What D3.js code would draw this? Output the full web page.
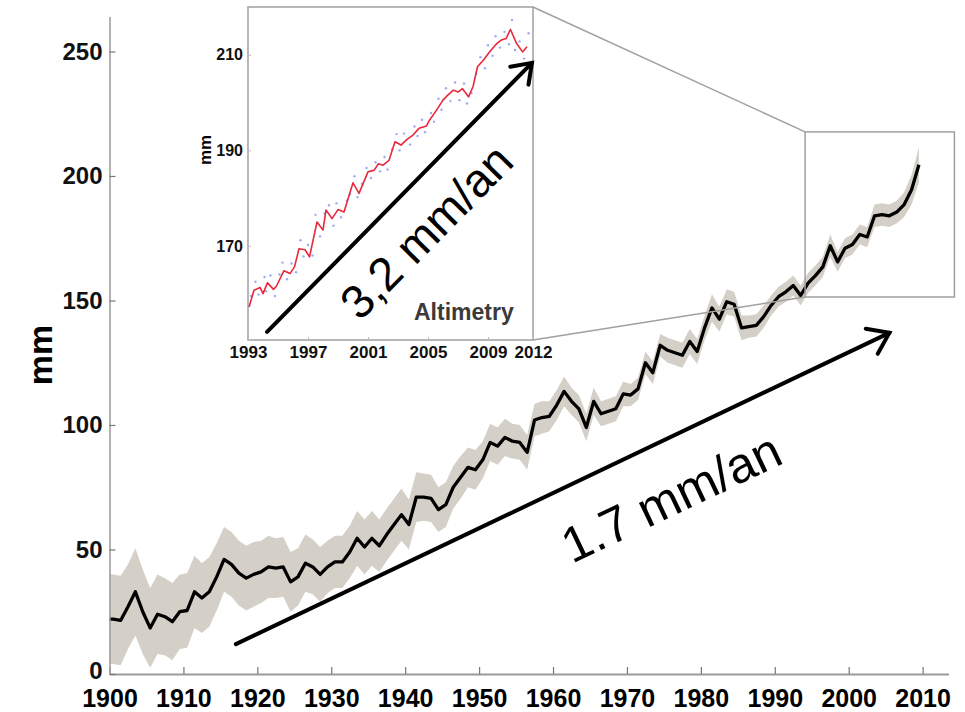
<!DOCTYPE html>
<html>
<head>
<meta charset="utf-8">
<script src="https://cdn.jsdelivr.net/npm/d3@7"></script>
<style>
  body { margin: 0; background: #fff; }
  svg { display: block; font-family: "Liberation Sans", Arial, Helvetica, sans-serif; }
</style>
</head>
<body>
<svg id="chart" width="965" height="712"></svg>
<script>
// ---------- DATA ----------
const firstYear = 1900;
const seaLevel = [
  22, 21.5, 27, 33, 25, 18.5, 24, 23, 21, 25,
  25.5, 33, 30.5, 33, 39, 46, 44, 40.5, 38.5, 40,
  41, 43, 42.5, 43, 37, 39, 44.5, 43, 40, 43,
  45, 45, 49, 54.5, 51, 54.5, 51.5, 56, 60, 64,
  60, 71, 71, 70.5, 66, 68, 75, 79, 83, 82,
  86, 93, 91.5, 95, 93.5, 93, 89, 102, 103, 103.5,
  108, 113.5, 109.5, 106.5, 99, 109.5, 104.5, 105.5, 106.5, 112.5,
  112, 114.5, 125, 121, 132, 130, 129, 128, 133.5, 129.5,
  139, 147, 142.5, 149.5, 148.5, 139, 139.5, 140, 143.5, 148,
  151.5, 153.5, 156, 152, 157, 160, 163.5, 172, 165.5, 171,
  172.5, 176.5, 175.5, 184, 184.5, 184, 185.5, 188.5, 194.5, 204.5
];
const uncertainty = [
  18, 18, 17, 17.5, 17, 16, 16, 15.5, 15.5, 15,
  15, 14.5, 14, 14, 13.5, 13, 13, 13, 13, 13,
  12.5, 12.5, 12, 12, 12, 11.5, 11.5, 11, 11, 10.5,
  10.5, 10.5, 10.5, 11, 11, 11, 10.5, 10.5, 10.5, 10.5,
  10, 10, 9.5, 9.5, 9, 9, 8.5, 8.5, 8, 8,
  7.5, 7.5, 7.5, 7.5, 7, 7, 7, 6.5, 6.5, 6,
  6, 6, 5.5, 5.5, 5.5, 5.5, 5, 5, 5, 5,
  4.5, 4.5, 4.5, 4.5, 4.5, 5, 5, 5, 5, 5,
  5, 5.5, 5, 5, 5, 5, 4.5, 4.5, 4.5, 4,
  4, 4, 4, 4, 4, 4, 4, 4.5, 4, 4,
  4, 4, 4, 4.5, 4.5, 4.5, 4.5, 5, 6, 7
];
const xTicks = [1900, 1910, 1920, 1930, 1940, 1950, 1960, 1970, 1980, 1990, 2000, 2010];
const yTicks = [0, 50, 100, 150, 200, 250];

// Inset (altimetry)
const insetRedT = [1993.07,1993.4,1993.8,1994.0,1994.3,1994.7,1994.9,1995.4,1995.8,1996.1,1996.4,1996.8,1997.1,1997.6,1998.0,1998.2,1998.6,1999.0,1999.4,2000.0,2000.4,2001.0,2001.4,2001.7,2002.0,2002.4,2002.8,2003.2,2003.6,2004.0,2004.4,2004.9,2005.1,2005.5,2006.0,2006.3,2006.7,2007.0,2007.3,2007.7,2008.0,2008.3,2008.7,2009.1,2009.6,2009.9,2010.2,2010.5,2010.9,2011.3,2011.6];
const insetRedV = [157.2,160.7,161.3,160.0,162.3,160.9,161.6,164.8,164.2,165.6,169.4,169.2,167.7,175.0,173.3,177.5,175.7,177.6,177.1,183.2,181.0,185.5,185.8,187.2,186.9,187.9,191.8,191.1,192.3,193.2,194.6,195.1,196.3,198.1,200.5,201.5,202.6,202.2,202.9,201.2,203.3,207.5,208.9,210.6,212.4,213.1,213.4,215.3,212.4,210.6,211.7];
const insetBlueT = [1993.2,1993.5,1993.7,1994.1,1994.2,1994.5,1994.8,1995.1,1995.3,1995.6,1995.9,1996.2,1996.5,1996.7,1997.0,1997.3,1997.5,1997.8,1998.1,1998.4,1998.7,1998.9,1999.2,1999.6,1999.8,2000.1,2000.3,2000.6,2000.9,2001.2,2001.5,2001.8,2002.1,2002.3,2002.6,2002.9,2003.1,2003.4,2003.8,2004.1,2004.3,2004.6,2004.8,2005.2,2005.4,2005.7,2005.9,2006.2,2006.5,2006.8,2007.1,2007.4,2007.6,2007.9,2008.2,2008.5,2008.8,2009.0,2009.3,2009.5,2009.8,2010.1,2010.4,2010.6,2010.8,2011.1,2011.4,2011.7];
const insetBlueV = [159.5,162.5,159.8,163.5,160.5,163.8,159.5,164.0,166.5,163.0,166.3,164.5,171.2,167.8,170.2,168.0,176.5,172.0,176.8,178.5,174.2,178.9,176.0,179.5,180.8,184.6,180.2,183.0,186.3,184.2,187.5,185.6,188.6,186.0,190.2,193.4,190.0,193.5,191.2,195.0,193.0,196.4,193.8,197.8,196.0,200.8,198.5,203.0,200.3,204.2,200.5,204.0,199.8,202.0,206.0,209.5,207.2,212.0,209.8,213.9,211.5,214.8,212.2,217.3,211.0,212.8,209.2,214.5];
const insetXTicks = [1993, 1997, 2001, 2005, 2009, 2012];
const insetYTicks = [170, 190, 210];

// Annotations (in data units)
const mainArrow = { from: [1917.1, 12.0], to: [2005.5, 137.0], label: "1.7 mm/an" };
const insetArrow = { from: [1994.27, 152.0], to: [2011.93, 208.3], label: "3,2 mm/an" };
const zoomBox = { years: [1994.1, 2014.3], values: [151.4, 217.7] };

// ---------- SCALES ----------
const svg = d3.select("#chart");
const x = d3.scaleLinear().domain([1900, 2013.5]).range([109.5, 948.5]);
const y = d3.scaleLinear().domain([0, 264]).range([674, 16.6]);

const xi = d3.scaleLinear().domain([1993, 2012]).range([248, 533]);
const yi = d3.scaleLinear().domain([150.3, 220]).range([340, 7]);

const axisGray = "#9a9a9a";

// ---------- MAIN SERIES ----------
const pts = seaLevel.map((v, i) => ({ t: firstYear + i + 0.5, v, e: uncertainty[i] }));
const ptsFull = [{ t: firstYear, v: pts[0].v, e: pts[0].e }].concat(pts);

svg.append("path")
  .datum(ptsFull)
  .attr("fill", "#d4d0c8")
  .attr("d", d3.area().x(d => x(d.t)).y0(d => y(d.v - d.e)).y1(d => y(d.v + d.e)));

svg.append("path")
  .datum(ptsFull)
  .attr("fill", "none")
  .attr("stroke", "#000")
  .attr("stroke-width", 3.3)
  .attr("stroke-linejoin", "round")
  .attr("d", d3.line().x(d => x(d.t)).y(d => y(d.v)));

// ---------- MAIN AXES ----------
const gx = svg.append("g").attr("transform", `translate(0,${y(0)})`)
  .call(d3.axisBottom(x).tickValues(xTicks).tickFormat(d3.format("d")).tickSize(-7).tickSizeOuter(0).tickPadding(15));
gx.select(".domain").attr("stroke", axisGray).attr("stroke-width", 2);
gx.selectAll(".tick line").attr("stroke", "#777").attr("stroke-width", 1.2);
gx.selectAll(".tick text").attr("font-size", 25).attr("font-weight", "bold").attr("fill", "#000")
  .attr("font-family", "'Liberation Sans', Arial, sans-serif");

const gy = svg.append("g").attr("transform", `translate(${x(1900)},0)`)
  .call(d3.axisLeft(y).tickValues(yTicks).tickSize(-6).tickSizeOuter(0).tickPadding(7));
gy.select(".domain").attr("stroke", axisGray).attr("stroke-width", 1.5);
gy.selectAll(".tick line").attr("stroke", "#777").attr("stroke-width", 1.2);
gy.selectAll(".tick text").attr("font-size", 24).attr("font-weight", "bold").attr("fill", "#111")
  .attr("font-family", "'Liberation Sans', Arial, sans-serif");
gy.selectAll(".tick text").filter(d => d === 0).attr("dy", "0.18em");

svg.append("text")
  .attr("transform", "translate(52,355) rotate(-90)")
  .attr("text-anchor", "middle")
  .attr("font-size", 34).attr("font-weight", "bold")
  .text("mm");

// ---------- ZOOM BOX + CONNECTORS ----------
const bx0 = x(zoomBox.years[0]), bx1 = x(zoomBox.years[1]);
const by0 = y(zoomBox.values[1]), by1 = y(zoomBox.values[0]);
svg.append("rect").attr("x", bx0).attr("y", by0).attr("width", bx1 - bx0).attr("height", by1 - by0)
  .attr("fill", "none").attr("stroke", "#a0a0a0").attr("stroke-width", 1.5);
svg.append("line").attr("x1", xi(2012)).attr("y1", yi(220)).attr("x2", bx0).attr("y2", by0)
  .attr("stroke", "#a0a0a0").attr("stroke-width", 1.5);
svg.append("line").attr("x1", xi(2012)).attr("y1", yi(150.3)).attr("x2", bx0).attr("y2", by1)
  .attr("stroke", "#a0a0a0").attr("stroke-width", 1.5);

// ---------- INSET ----------
const inset = svg.append("g");
inset.append("rect").attr("x", xi(1993)).attr("y", yi(220)).attr("width", xi(2012) - xi(1993)).attr("height", yi(150.3) - yi(220))
  .attr("fill", "#fff").attr("stroke", "#a0a0a0").attr("stroke-width", 1.5);

const gxi = inset.append("g").attr("transform", `translate(0,${yi(150.3)})`)
  .call(d3.axisBottom(xi).tickValues(insetXTicks).tickFormat(d3.format("d")).tickSize(-3).tickSizeOuter(0).tickPadding(6));
gxi.select(".domain").remove();
gxi.selectAll(".tick line").attr("stroke", "#bbb");
gxi.selectAll(".tick text").attr("font-size", 17).attr("font-weight", "bold").attr("fill", "#111")
  .attr("font-family", "'Liberation Sans', Arial, sans-serif");

const gyi = inset.append("g").attr("transform", `translate(${xi(1993)},0)`)
  .call(d3.axisLeft(yi).tickValues(insetYTicks).tickSize(-3).tickSizeOuter(0).tickPadding(5));
gyi.select(".domain").remove();
gyi.selectAll(".tick line").attr("stroke", "#bbb");
gyi.selectAll(".tick text").attr("font-size", 16).attr("font-weight", "bold").attr("fill", "#111")
  .attr("font-family", "'Liberation Sans', Arial, sans-serif");

inset.append("text")
  .attr("transform", "translate(211,150) rotate(-90)")
  .attr("text-anchor", "middle")
  .attr("font-size", 17).attr("font-weight", "bold")
  .text("mm");

inset.append("g").selectAll("circle")
  .data(insetBlueT.map((t, i) => ({ t, v: insetBlueV[i] })))
  .join("circle")
  .attr("cx", d => xi(d.t)).attr("cy", d => yi(d.v)).attr("r", 1.2)
  .attr("fill", "#6f86f0").attr("opacity", 0.7);

inset.append("path")
  .datum(insetRedT.map((t, i) => ({ t, v: insetRedV[i] })))
  .attr("fill", "none").attr("stroke", "#e8283c").attr("stroke-width", 1.6)
  .attr("stroke-linejoin", "round")
  .attr("d", d3.line().x(d => xi(d.t)).y(d => yi(d.v)));

inset.append("text")
  .attr("x", 414).attr("y", 320)
  .attr("font-size", 23).attr("font-weight", "bold").attr("fill", "#3a3a3a")
  .text("Altimetry");

// ---------- ARROWS ----------
function arrow(sx, sy, p0, p1, headLen, label, fontSize, labelOffset) {
  const x0 = sx(p0[0]), y0 = sy(p0[1]), x1 = sx(p1[0]), y1 = sy(p1[1]);
  const ang = Math.atan2(y1 - y0, x1 - x0);
  svg.append("line").attr("x1", x0).attr("y1", y0).attr("x2", x1).attr("y2", y1)
    .attr("stroke", "#000").attr("stroke-width", 4).attr("stroke-linecap", "round");
  const a = 0.62;
  const hp = [
    [x1 - headLen * Math.cos(ang - a), y1 - headLen * Math.sin(ang - a)],
    [x1, y1],
    [x1 - headLen * Math.cos(ang + a), y1 - headLen * Math.sin(ang + a)]
  ];
  svg.append("path").attr("d", d3.line()(hp)).attr("fill", "none")
    .attr("stroke", "#000").attr("stroke-width", 4).attr("stroke-linecap", "round").attr("stroke-linejoin", "miter");
  const deg = ang * 180 / Math.PI;
  svg.append("text")
    .attr("transform", `translate(${labelOffset[0]},${labelOffset[1]}) rotate(${deg})`)
    .attr("font-size", fontSize)
    .attr("font-family", "'Liberation Sans', Arial, sans-serif")
    .attr("fill", "#000")
    .text(label);
}
arrow(x, y, mainArrow.from, mainArrow.to, 24, mainArrow.label, 50, [572, 564]);
arrow(xi, yi, insetArrow.from, insetArrow.to, 22, insetArrow.label, 47, [360, 322]);
</script>
</body>
</html>
